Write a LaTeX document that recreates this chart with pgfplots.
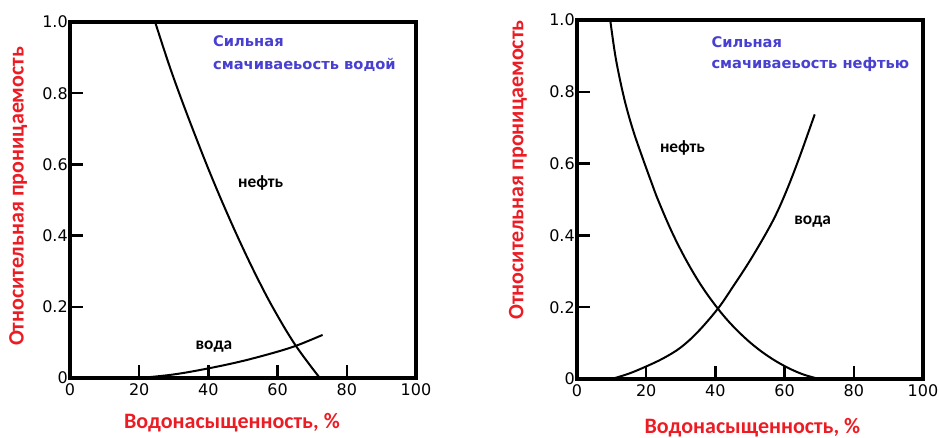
\documentclass[border=0pt]{standalone}
\usepackage{fontspec}
\setmainfont{Carlito}
\newfontfamily\tickfont{DejaVu Sans}
\newfontfamily\bluefont{DejaVu Sans}
\usepackage{pgfplots}
\pgfplotsset{compat=1.18}
\definecolor{lblred}{RGB}{236,28,36}
\definecolor{lblblue}{RGB}{72,64,208}
\pgfplotsset{
  relperm/.style={
    scale only axis,
    xmin=0, xmax=100, ymin=0, ymax=1,
    axis line style={line width=2.8pt},
    tick style={line width=1.8pt, black},
    tick align=inside,
    major tick length=10pt,
    xtick pos=bottom, ytick pos=left,
    xtick={0,20,40,60,80,100},
    ytick={0,0.2,0.4,0.6,0.8,1.0},
    yticklabels={0,0.2,0.4,0.6,0.8,1.0},
    xticklabels={0,20,40,60,80,100},
    ticklabel style={font=\tickfont\fontsize{12pt}{14pt}\selectfont},
    yticklabel style={inner xsep=1.5pt},
    xticklabel style={yshift=-1pt},
    xlabel={Водонасыщенность, \%},
    ylabel={Относительная проницаемость},
    label style={font=\bfseries\fontsize{16.5pt}{18pt}\selectfont, text=lblred},
    clip=false,
  },
  curve/.style={black, line width=1.5pt, smooth, tension=0.6, no markers},
}
\tikzset{
  bluelbl/.style={anchor=west, inner sep=0pt, font=\bluefont\bfseries\fontsize{11pt}{13pt}\selectfont, text=lblblue},
  curvelbl/.style={font=\bfseries\fontsize{13pt}{15pt}\selectfont},
}
\begin{document}
\begin{tikzpicture}
\useasboundingbox (0,0) rectangle (704.25pt,328.5pt);
% Left chart
\begin{axis}[relperm,
  at={(52.5pt,45pt)}, anchor=south west,
  width=259.5pt, height=267pt,
  xlabel style={at={(rel axis cs:0.468,-0.126)}, anchor=center},
  ylabel style={at={(rel axis cs:-0.150,0.51)}, anchor=center},
]
\addplot[curve] coordinates {
(24.6,1.0) (28.66,0.879) (32.47,0.776) (36.87,0.664) (40.72,0.570) (44.77,0.477)
(49.10,0.383) (53.73,0.289) (58.74,0.196) (65.10,0.093) (72.2,0.0)};
\addplot[curve] coordinates {
(20.2,0.0) (30,0.010) (40,0.027) (50,0.048) (60,0.074) (66,0.093) (73.0,0.121)};
\node[bluelbl] at (axis cs:41.3,0.945) {Сильная};
\node[bluelbl] at (axis cs:41.3,0.879) {смачиваеьость водой};
\node[curvelbl] at (axis cs:55.1,0.547) {нефть};
\node[curvelbl] at (axis cs:41.6,0.088) {вода};
\end{axis}
% Right chart
\begin{axis}[relperm,
  at={(432.75pt,44.25pt)}, anchor=south west,
  width=259.5pt, height=269.25pt,
  xlabel style={at={(rel axis cs:0.507,-0.136)}, anchor=center},
  ylabel style={at={(rel axis cs:-0.171,0.582)}, anchor=center},
]
\addplot[curve] coordinates {
(9.6,1.0) (11,0.905) (12.5,0.83) (14.2,0.76) (16.3,0.69) (18.8,0.62) (21.5,0.548)
(23.5,0.497) (27.4,0.41) (31.5,0.332) (36,0.259) (40.8,0.195) (45,0.148) (50,0.102)
(55,0.065) (60,0.036) (65,0.014) (70,0.0)};
\addplot[curve] coordinates {
(10,0.0) (15,0.015) (20,0.035) (25,0.058) (30,0.088) (35,0.132) (40.8,0.197)
(45,0.256) (50,0.330) (55,0.412) (58,0.468) (61,0.535) (64,0.61) (66.5,0.677) (68.7,0.737)};
\node[bluelbl] at (axis cs:38.8,0.939) {Сильная};
\node[bluelbl] at (axis cs:38.8,0.875) {смачиваеьость нефтью};
\node[curvelbl] at (axis cs:30.5,0.643) {нефть};
\node[curvelbl] at (axis cs:68.1,0.438) {вода};
\end{axis}
\end{tikzpicture}
\end{document}
